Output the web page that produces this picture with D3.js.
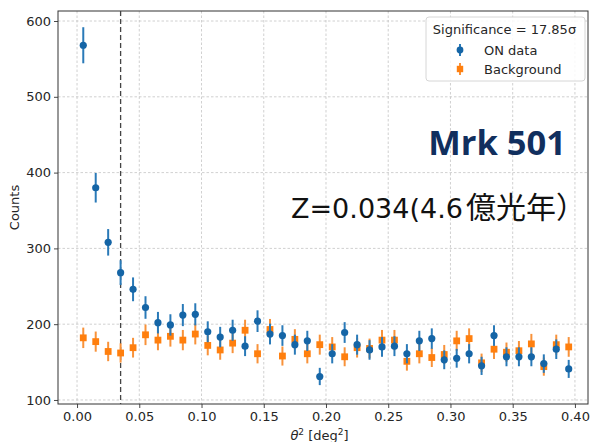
<!DOCTYPE html>
<html>
<head>
<meta charset="utf-8">
<script src="https://cdn.jsdelivr.net/npm/d3@7"></script>
<style>
  html, body { margin: 0; padding: 0; background: #fff; }
  svg { display: block; }
</style>
</head>
<body>
<svg id="chart" width="591" height="442"></svg>
<script>
// θ² bin centres (deg²)
const theta2 = [0.005, 0.015, 0.025, 0.035, 0.045, 0.055, 0.065, 0.075, 0.085, 0.095,
                0.105, 0.115, 0.125, 0.135, 0.145, 0.155, 0.165, 0.175, 0.185, 0.195,
                0.205, 0.215, 0.225, 0.235, 0.245, 0.255, 0.265, 0.275, 0.285, 0.295,
                0.305, 0.315, 0.325, 0.335, 0.345, 0.355, 0.365, 0.375, 0.385, 0.395];

// ON-region counts and their errors
const onCounts = [568, 380, 308, 268, 246, 222, 202, 199, 212, 213,
                  190, 183, 192, 171, 204, 187, 185, 173, 178, 131,
                  161, 189, 173, 166, 170, 171, 161, 178, 181, 153,
                  155, 161, 145, 185, 157, 157, 157, 148, 167, 141];
const onErr = [23.8, 19.5, 17.5, 16.4, 15.7, 14.9, 14.2, 14.1, 14.6, 14.6,
               13.8, 13.5, 13.9, 13.1, 14.3, 13.7, 13.6, 13.2, 13.3, 11.4,
               12.7, 13.7, 13.2, 12.9, 13.0, 13.1, 12.7, 13.3, 13.5, 12.4,
               12.4, 12.7, 12.0, 13.6, 12.5, 12.5, 12.5, 12.2, 12.9, 11.9];

// Background counts and their errors
const bkgCounts = [182, 177, 164, 162, 169, 186, 179, 184, 179, 187,
                   172, 166, 175, 192, 161, 193, 158, 180, 161, 173,
                   170, 157, 169, 168, 179, 179, 151, 161, 156, 160,
                   178, 181, 149, 167, 163, 165, 174, 144, 173, 170];
const bkgErr = [13.5, 13.3, 12.8, 12.7, 13.0, 13.6, 13.4, 13.6, 13.4, 13.7,
                13.1, 12.9, 13.2, 13.9, 12.7, 13.9, 12.6, 13.4, 12.7, 13.2,
                13.0, 12.5, 13.0, 13.0, 13.4, 13.4, 12.3, 12.7, 12.5, 12.6,
                13.3, 13.5, 12.2, 12.9, 12.8, 12.8, 13.2, 12.0, 13.2, 13.0];

const xTicks = [0.00, 0.05, 0.10, 0.15, 0.20, 0.25, 0.30, 0.35, 0.40];
const yTicks = [100, 200, 300, 400, 500, 600];
const thetaCut = 0.035;
const legendTitle = "Significance = 17.85\u03c3";
const seriesNames = ["ON data", "Background"];
const sourceName = "Mrk 501";
const redshiftLatin = "Z=0.034(4.6";
const redshiftCJK = "億光年）";

const blue = "#1565a6", blueBar = "#2a7ab8";
const orange = "#ff7f0e", orangeBar = "#f8923a";

const frame = { left: 58, right: 588, top: 11, bottom: 404 };
const x = d3.scaleLinear().domain([-0.0153, 0.4105]).range([frame.left, frame.right]);
const y = d3.scaleLinear().domain([94.7, 613.2]).range([frame.bottom, frame.top]);

const svg = d3.select("#chart");
const font = "DejaVu Sans, sans-serif";

// grid
const grid = svg.append("g");
grid.selectAll("line.gx").data(xTicks).join("line")
  .attr("x1", d => x(d)).attr("x2", d => x(d))
  .attr("y1", frame.top).attr("y2", frame.bottom)
  .attr("stroke", "#c4c4c4").attr("stroke-width", 0.8).attr("stroke-dasharray", "2.5,2");
grid.selectAll("line.gy").data(yTicks).join("line")
  .attr("x1", frame.left).attr("x2", frame.right)
  .attr("y1", d => y(d)).attr("y2", d => y(d))
  .attr("stroke", "#c4c4c4").attr("stroke-width", 0.8).attr("stroke-dasharray", "2.5,2");

// axes
const xAxis = d3.axisBottom(x).tickValues(xTicks).tickFormat(d3.format(".2f")).tickSize(4).tickPadding(4);
const yAxis = d3.axisLeft(y).tickValues(yTicks).tickFormat(d3.format("d")).tickSize(4).tickPadding(3);

const gx = svg.append("g").attr("transform", `translate(0,${frame.bottom})`).call(xAxis);
const gy = svg.append("g").attr("transform", `translate(${frame.left},0)`).call(yAxis);
[gx, gy].forEach(g => {
  g.select(".domain").remove();
  g.selectAll(".tick line").attr("stroke", "#333").attr("stroke-width", 0.9);
  g.selectAll(".tick text").attr("fill", "#262626").style("font-family", font).style("font-size", "13px");
});

// frame
svg.append("rect")
  .attr("x", frame.left).attr("y", frame.top)
  .attr("width", frame.right - frame.left).attr("height", frame.bottom - frame.top)
  .attr("fill", "none").attr("stroke", "#333").attr("stroke-width", 1);

// axis labels
svg.append("text")
  .attr("transform", `translate(19,${(frame.top + frame.bottom) / 2}) rotate(-90)`)
  .attr("text-anchor", "middle")
  .style("font-family", font).style("font-size", "13px").attr("fill", "#262626")
  .text("Counts");

const xl = svg.append("text")
  .attr("x", (frame.left + 575) / 2 + 3).attr("y", 440)
  .attr("text-anchor", "middle")
  .style("font-family", font).style("font-size", "13px").attr("fill", "#262626");
xl.append("tspan").style("font-style", "italic").text("\u03b8");
xl.append("tspan").attr("dy", -5).style("font-size", "9px").text("2");
xl.append("tspan").attr("dy", 5).text(" [deg");
xl.append("tspan").attr("dy", -5).style("font-size", "9px").text("2");
xl.append("tspan").attr("dy", 5).text("]");

// cut line
svg.append("line")
  .attr("x1", x(thetaCut)).attr("x2", x(thetaCut))
  .attr("y1", frame.top).attr("y2", frame.bottom)
  .attr("stroke", "#444").attr("stroke-width", 1.3).attr("stroke-dasharray", "5,3");

// data series
function drawSeries(vals, errs, barColor, fill, shape) {
  const g = svg.append("g");
  const rows = theta2.map((t, i) => ({ t, v: vals[i], e: errs[i] }));
  g.selectAll("line").data(rows).join("line")
    .attr("x1", d => x(d.t)).attr("x2", d => x(d.t))
    .attr("y1", d => y(d.v - d.e)).attr("y2", d => y(d.v + d.e))
    .attr("stroke", barColor).attr("stroke-width", 2);
  if (shape === "circle") {
    g.selectAll("circle").data(rows).join("circle")
      .attr("cx", d => x(d.t)).attr("cy", d => y(d.v)).attr("r", 3.6)
      .attr("fill", fill);
  } else {
    g.selectAll("rect").data(rows).join("rect")
      .attr("x", d => x(d.t) - 3.4).attr("y", d => y(d.v) - 3.4)
      .attr("width", 6.8).attr("height", 6.8)
      .attr("fill", fill);
  }
}
drawSeries(bkgCounts, bkgErr, orangeBar, orange, "square");
drawSeries(onCounts, onErr, blueBar, blue, "circle");

// legend
const lg = svg.append("g");
lg.append("rect")
  .attr("x", 426).attr("y", 17).attr("width", 159).attr("height", 64).attr("rx", 3)
  .attr("fill", "#fff").attr("fill-opacity", 0.85)
  .attr("stroke", "#d6d6d6").attr("stroke-width", 1);
lg.append("text")
  .attr("x", 504.5).attr("y", 33.5).attr("text-anchor", "middle")
  .style("font-family", font).style("font-size", "13px").attr("fill", "#262626")
  .text(legendTitle);
const legendItems = [
  { name: seriesNames[0], c: blue, bar: blueBar, shape: "circle", yy: 50 },
  { name: seriesNames[1], c: orange, bar: orangeBar, shape: "square", yy: 69 }
];
legendItems.forEach(it => {
  lg.append("line").attr("x1", 460).attr("x2", 460)
    .attr("y1", it.yy - 6).attr("y2", it.yy + 6)
    .attr("stroke", it.bar).attr("stroke-width", 2);
  if (it.shape === "circle") {
    lg.append("circle").attr("cx", 460).attr("cy", it.yy).attr("r", 3.4).attr("fill", it.c);
  } else {
    lg.append("rect").attr("x", 456.8).attr("y", it.yy - 3.2).attr("width", 6.4).attr("height", 6.4).attr("fill", it.c);
  }
  lg.append("text").attr("x", 484).attr("y", it.yy + 4.5)
    .style("font-family", font).style("font-size", "13px").attr("fill", "#262626")
    .text(it.name);
});

// source annotation
svg.append("text")
  .attr("x", 566).attr("y", 155).attr("text-anchor", "end")
  .style("font-family", "'Open Sans', 'Noto Sans', sans-serif").style("font-weight", "700")
  .style("font-size", "34.5px").attr("fill", "#112f5e")
  .text(sourceName);
const zNote = svg.append("text")
  .attr("x", 291).attr("y", 218)
  .attr("fill", "#111");
zNote.append("tspan")
  .style("font-family", "'DejaVu Sans', sans-serif").style("font-size", "27px")
  .text(redshiftLatin);
zNote.append("tspan")
  .attr("x", 466)
  .style("font-family", "'Noto Sans CJK JP', sans-serif").style("font-size", "30px")
  .text(redshiftCJK);
</script>
</body>
</html>
